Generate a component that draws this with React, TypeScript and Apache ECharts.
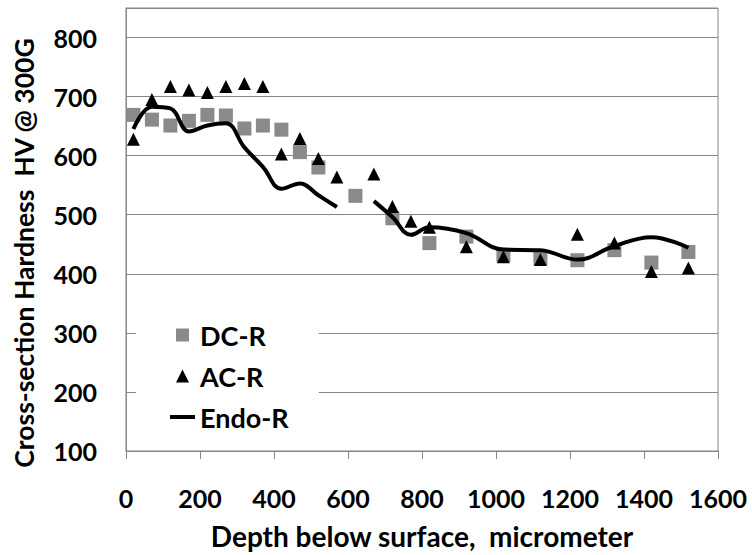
import React, { useEffect, useRef } from "react";
import * as echarts from "echarts";

const depthDC = [20, 70, 120, 170, 220, 270, 320, 370, 420, 470, 520, 620, 720, 820, 920, 1020, 1120, 1220, 1320, 1420, 1520];
const hardDC = [669, 661, 651, 659, 669, 668, 646, 651, 644, 606, 580, 532, 494, 452, 463, 432, 426, 423, 440, 419, 437];

const depthAC = [20, 70, 120, 170, 220, 270, 320, 370, 420, 470, 520, 570, 670, 720, 770, 820, 920, 1020, 1120, 1220, 1320, 1420, 1520];
const hardAC = [628, 695, 717, 711, 707, 717, 722, 717, 603, 629, 595, 564, 569, 514, 489, 479, 446, 429, 424, 467, 452, 404, 410];

const depthEndo = [20, 70, 120, 170, 220, 270, 320, 370, 420, 470, 520, 570, 620, 670, 720, 770, 820, 920, 1020, 1120, 1220, 1320, 1420, 1520];
const hardEndo: (number | null)[] = [645, 683, 680, 641, 651, 655, 614, 581, 544, 553, 533, 513, null, 523, 496, 466, 479, 469, 441, 440, 424, 447, 462, 444];

const seriesNames = ["DC-R", "AC-R", "Endo-R"];
const xTitle = "Depth below surface,  micrometer";
const yTitle = "Cross-section Hardness  HV @ 300G";

const FONT = "Lato";
const GRAY = "#868686";

export default function App() {
  const ref = useRef<HTMLDivElement>(null);
  useEffect(() => {
    if (!ref.current) return;
    const chart = echarts.init(ref.current, undefined, { renderer: "svg" });
    const labelStyle = { fontFamily: FONT, fontWeight: "bold" as const, fontSize: 25, color: "#000" };
    chart.setOption({
      animation: false,
      backgroundColor: "#fff",
      grid: {
        left: 126,
        top: 8,
        width: 592,
        height: 444,
        show: true,
        borderColor: GRAY,
        borderWidth: 1,
        containLabel: false,
      },
      xAxis: {
        type: "value",
        min: 0,
        max: 1600,
        interval: 200,
        name: xTitle,
        nameLocation: "middle",
        nameGap: 71,
        nameTextStyle: { ...labelStyle, fontSize: 28 },
        axisLine: { show: true, lineStyle: { color: GRAY, width: 1 } },
        axisTick: { show: true, inside: false, length: 8, lineStyle: { color: GRAY } },
        axisLabel: { ...labelStyle, margin: 34, formatter: (v: number) => String(v) },
        splitLine: { show: false },
      },
      yAxis: {
        type: "value",
        min: 100,
        max: 850,
        interval: 100,
        axisLine: { show: true, lineStyle: { color: GRAY, width: 1 } },
        axisTick: { show: false },
        axisLabel: {
          ...labelStyle,
          margin: 29,
          showMaxLabel: false,
          formatter: (v: number) => (v % 100 === 0 ? String(v) : ""),
        },
        splitLine: { show: true, lineStyle: { color: GRAY, width: 1 } },
      },
      legend: {
        orient: "vertical",
        left: 136,
        top: 312,
        padding: [8, 30, 10, 34],
        backgroundColor: "#fff",
        itemWidth: 25,
        itemHeight: 13,
        itemGap: 11,
        symbolKeepAspect: true,
        data: [
          { name: seriesNames[0], icon: "path://M0,0h10v10h-10z" },
          { name: seriesNames[1], icon: "path://M5,0L10,10L0,10z" },
          { name: seriesNames[2], icon: "path://M0,0h25v4h-25z" },
        ],
        textStyle: { ...labelStyle, fontSize: 27, lineHeight: 30 },
      },
      graphic: [
        {
          type: "text",
          x: 24,
          y: 253,
          rotation: Math.PI / 2,
          style: {
            text: yTitle,
            font: `bold 26.5px ${FONT}`,
            fill: "#000",
            align: "center",
            verticalAlign: "middle",
          },
        },
      ],
      series: [
        {
          name: seriesNames[0],
          type: "scatter",
          symbol: "rect",
          symbolSize: 14,
          itemStyle: { color: "#8a8a8a", opacity: 1 },
          data: depthDC.map((x, i) => [x, hardDC[i]]),
          z: 3,
        },
        {
          name: seriesNames[1],
          type: "scatter",
          symbol: "triangle",
          symbolSize: 13,
          itemStyle: { color: "#000", opacity: 1 },
          data: depthAC.map((x, i) => [x, hardAC[i]]),
          z: 4,
        },
        {
          name: seriesNames[2],
          type: "line",
          smooth: 0.4,
          symbol: "none",
          showSymbol: false,
          connectNulls: false,
          lineStyle: { color: "#000", width: 4 },
          itemStyle: { color: "#000" },
          data: depthEndo.map((x, i) => [x, hardEndo[i] === null ? "-" : hardEndo[i]]),
          z: 5,
        },
      ],
    });
    return () => chart.dispose();
  }, []);
  return (
    <div
      ref={ref}
      style={{ position: "fixed", left: 0, top: 0, width: 752, height: 555, background: "#fff" }}
    />
  );
}
